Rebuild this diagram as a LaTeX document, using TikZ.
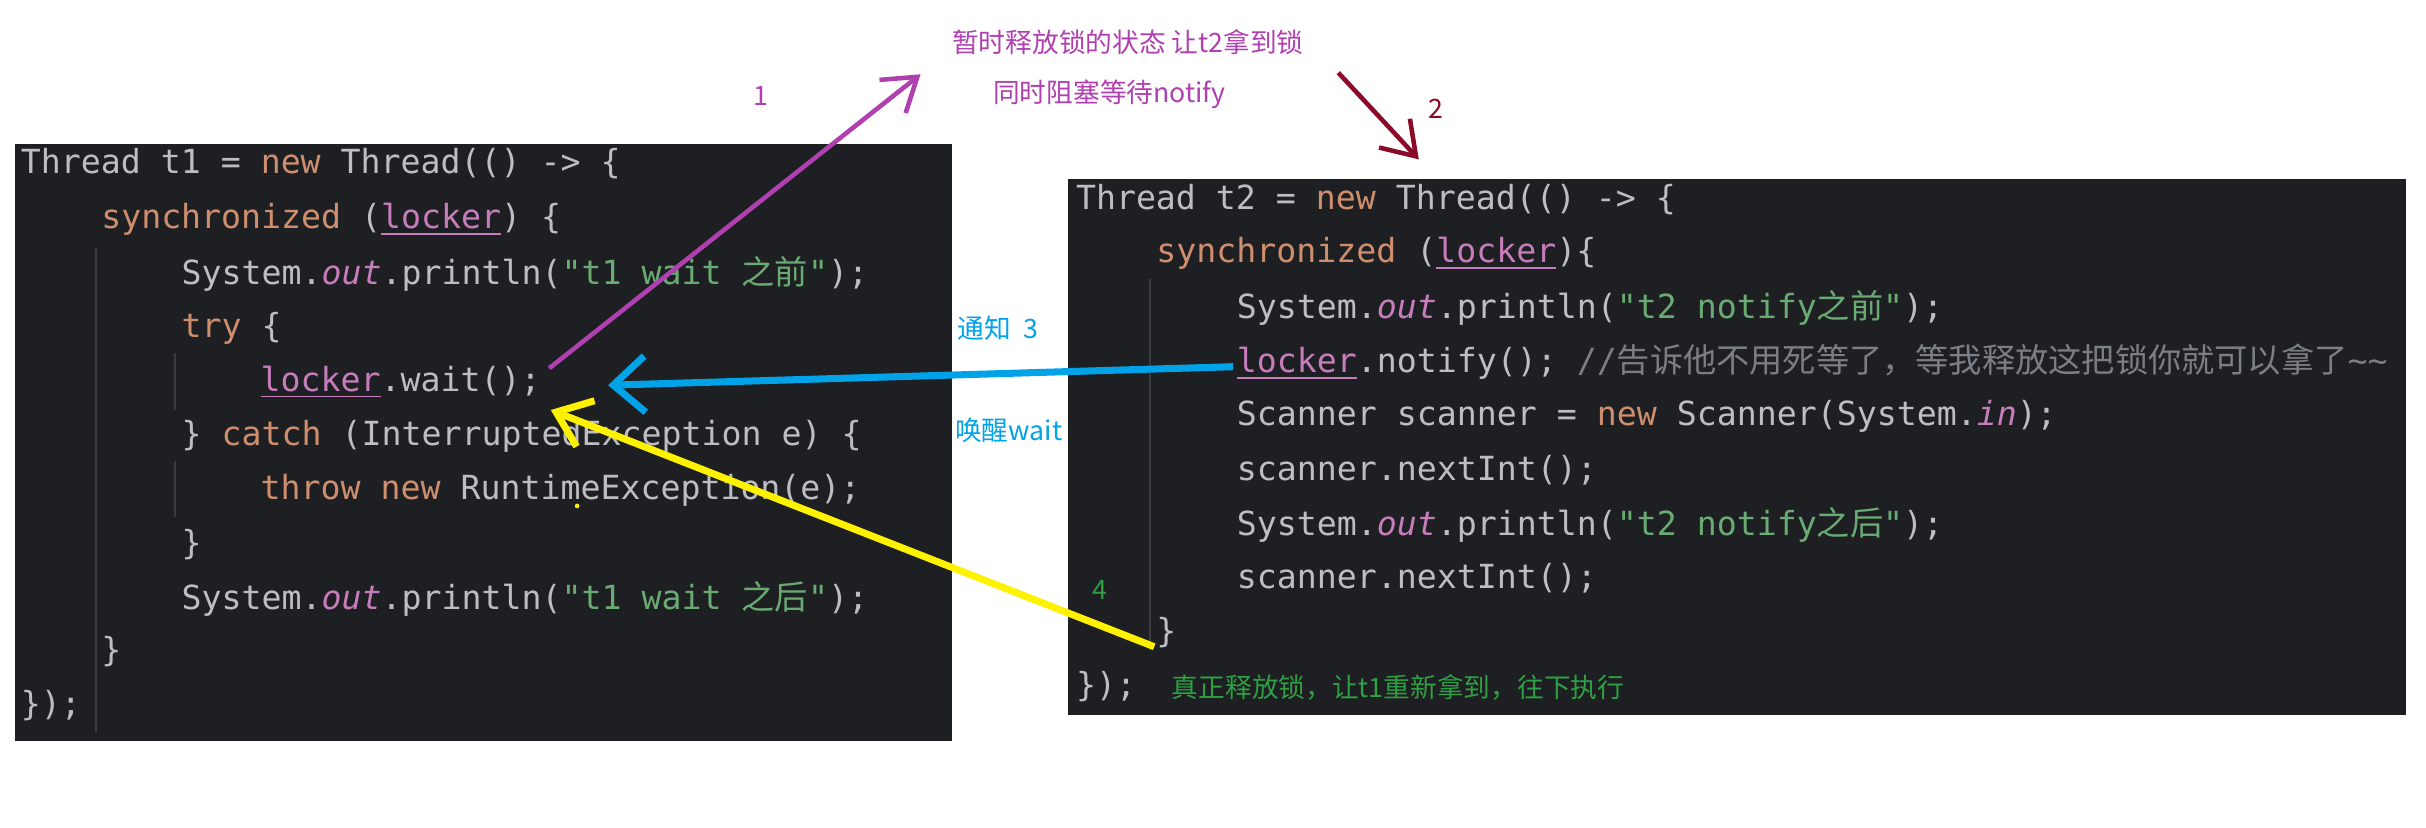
\documentclass[tikz,border=0pt]{standalone}
\usepackage{fontspec}
\setmonofont{DejaVu Sans Mono}
\setmainfont{Noto Sans CJK SC}
\newfontfamily\cjk{Noto Sans CJK SC}
\usetikzlibrary{arrows.meta}
\definecolor{bg}{HTML}{1E1F22}
\definecolor{txt}{HTML}{BCBEC4}
\definecolor{kw}{HTML}{CF8E6D}
\definecolor{str}{HTML}{6AAB73}
\definecolor{fld}{HTML}{C77DBB}
\definecolor{cmt}{HTML}{7A7E85}
\definecolor{guide}{HTML}{393B40}
\definecolor{annp}{HTML}{B040B0}
\definecolor{annr}{HTML}{8B0A28}
\definecolor{annb}{HTML}{00A2E8}
\definecolor{anng}{HTML}{2EA043}
\newcommand{\K}[1]{\textcolor{kw}{#1}}
\newcommand{\St}[1]{\textcolor{str}{#1}}
\newcommand{\F}[1]{\textcolor{fld}{\itshape #1}}
\newcommand{\Lk}{\textcolor{fld}{\underline{locker}}}
\newcommand{\Cj}[1]{{\cjk #1}}
\begin{document}
\begin{tikzpicture}[x=0.01547cm,y=-0.01547cm,
  code/.style={anchor=west,inner sep=0pt,text=txt,font=\ttfamily\fontsize{9.45}{11}\selectfont},
  ann/.style={inner sep=0pt,font=\cjk\fontsize{7.6}{9}\selectfont},
  gl/.style={guide,line width=0.6pt}]
\useasboundingbox[fill=white] (0,0) rectangle (1568,534.6);
% boxes
\fill[bg] (10,93) rectangle (615,479);
\fill[bg] (690,116) rectangle (1555,462);
% guides
\draw[gl] (62,160) -- (62,473);
\draw[gl] (113,228) -- (113,265);
\draw[gl] (113,298) -- (113,334);
\draw[gl] (743,180) -- (743,420);
% left code
\node[code] (l1) at (13,106) {Thread t1 = \K{new} Thread(() -> \{};
\node[code] (l2) at (65,142) {\K{synchronized} (\Lk) \{};
\node[code] (l3) at (117,177) {System.\F{out}.println(\St{"t1 wait \Cj{之前}"});};
\node[code] (l4) at (117,212) {\K{try} \{};
\node[code] (l5) at (168,247) {\Lk.wait();};
\node[code] (l6) at (117,282) {\} \K{catch} (InterruptedException e) \{};
\node[code] (l7) at (168,317) {\K{throw} \K{new} RuntimeException(e);};
\node[code] (l8) at (117,352) {\}};
\node[code] (l9) at (117,387) {System.\F{out}.println(\St{"t1 wait \Cj{之后}"});};
\node[code] (l10) at (65,421) {\}};
\node[code] (l11) at (13,456) {\});};
% right code
\node[code] (r1) at (695,129) {Thread t2 = \K{new} Thread(() -> \{};
\node[code] (r2) at (747,164) {\K{synchronized} (\Lk)\{};
\node[code] (r3) at (799,199) {System.\F{out}.println(\St{"t2 notify\Cj{之前}"});};
\node[code] (r4) at (799,234) {\Lk.notify(); \textcolor{cmt}{//\Cj{告诉他不用死等了，等我释放这把锁你就可以拿了}\textasciitilde\textasciitilde}};
\node[code] (r5) at (799,269) {Scanner scanner = \K{new} Scanner(System.\F{in});};
\node[code] (r6) at (799,304) {scanner.nextInt();};
\node[code] (r7) at (799,339) {System.\F{out}.println(\St{"t2 notify\Cj{之后}"});};
\node[code] (r8) at (799,374) {scanner.nextInt();};
\node[code] (r9) at (747,409) {\}};
\node[code] (r10) at (695,444) {\});};
\node[ann,anchor=west,text=anng] (g) at (757,444) {真正释放锁，让t1重新拿到，往下执行};
% annotations
\node[ann,text=annp] (a1) at (729,27) {暂时释放锁的状态 让t2拿到锁};
\node[ann,text=annp] (a1b) at (717,61) {同时阻塞等待notify};
\node[ann,text=annp] (n1) at (492,62) {1};
\node[ann,text=annr] (n2) at (928,70) {2};
\node[ann,text=annb] (n3) at (645,212) {通知\ \ 3};
\node[ann,text=annb] (n3b) at (652,278) {唤醒wait};
\node[ann,text=anng] (n4) at (711,381) {4};
\coordinate (p1) at (355,238); \coordinate (p2) at (595,48);
\draw[annp,line width=1.3pt,-{Straight Barb[length=9pt,width=12pt]}] (p1) -- (p2);
\coordinate (q1) at (865,47); \coordinate (q2) at (917,103);
\draw[annr,line width=1.3pt,-{Straight Barb[length=9pt,width=12pt]}] (q1) -- (q2);
\coordinate (b1) at (797,237); \coordinate (b2) at (393,249);
\draw[annb,line width=2pt,-{Straight Barb[length=9pt,width=16pt]}] (b1) -- (b2);
\coordinate (y1) at (746,418); \coordinate (y2) at (356,265);
\draw[yellow,line width=2pt,-{Straight Barb[length=9pt,width=14pt]}] (y1) -- (y2);
\fill[yellow] (373,327) circle (1.5);
\end{tikzpicture}
\end{document}
